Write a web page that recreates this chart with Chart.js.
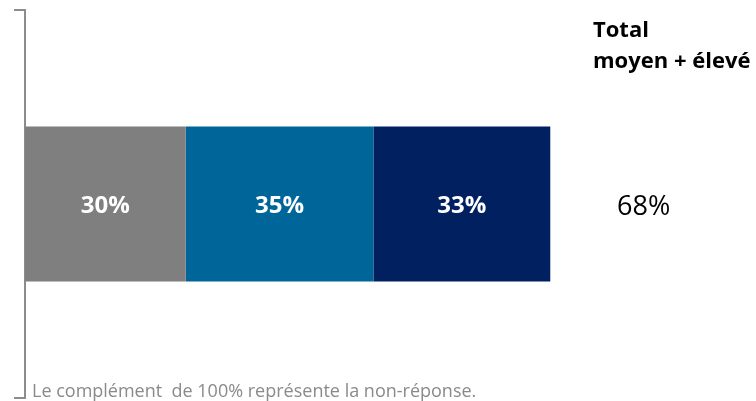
<!DOCTYPE html>
<html>
<head>
<meta charset="utf-8">
<script src="https://cdn.jsdelivr.net/npm/chart.js@4.4.0/dist/chart.umd.min.js"></script>
<style>
  html, body { margin: 0; padding: 0; background: #fff; }
  #wrap { width: 756px; height: 401px; position: relative; }
</style>
</head>
<body>
<div id="wrap"><canvas id="chart" width="756" height="401"></canvas></div>
<script>
// one bar, three segments
const categories = [''];
const seriesNames = ['Faible', 'Moyen', 'Élevé'];
const seriesValues = [30, 35, 33];
const seriesColors = ['#7f7f7f', '#006699', '#002060'];
const totalTitle = ['Total', 'moyen + élevé'];
const footnote = 'Le complément  de 100% représente la non-réponse.';

const FONT = '"Open Sans", "Liberation Sans", sans-serif';

// total = moyen + élevé
const totalValue = seriesValues[1] + seriesValues[2];

const labelPlugin = {
  id: 'labels',
  afterDatasetsDraw(chart) {
    const ctx = chart.ctx;
    ctx.save();
    ctx.fillStyle = '#ffffff';
    ctx.font = 'bold 24px ' + FONT;
    ctx.textAlign = 'center';
    ctx.textBaseline = 'middle';
    chart.data.datasets.forEach((ds, i) => {
      const bar = chart.getDatasetMeta(i).data[0];
      const cx = (bar.x + bar.base) / 2;
      ctx.fillText(ds.data[0] + '%', cx, bar.y + 2);
    });

    // side annotation
    const area = chart.chartArea;
    const bar0 = chart.getDatasetMeta(0).data[0];
    ctx.fillStyle = '#000000';
    ctx.textAlign = 'left';
    ctx.textBaseline = 'alphabetic';
    ctx.font = 'bold 22px ' + FONT;
    ctx.fillText(totalTitle[0], 593, 37);
    ctx.fillText(totalTitle[1], 593, 68);
    ctx.font = '27px ' + FONT;
    ctx.textBaseline = 'middle';
    ctx.fillText(totalValue + '%', 617, bar0.y + 3);

    // footnote
    ctx.fillStyle = '#8a8a8a';
    ctx.font = '18px ' + FONT;
    ctx.textBaseline = 'alphabetic';
    ctx.fillText(footnote, area.left + 7, 397);
    ctx.restore();
  }
};

new Chart(document.getElementById('chart'), {
  type: 'bar',
  data: {
    labels: categories,
    datasets: seriesNames.map((name, i) => ({
      label: name,
      data: [seriesValues[i]],
      backgroundColor: seriesColors[i],
      borderWidth: 0,
      barPercentage: 1,
      categoryPercentage: 0.4
    }))
  },
  options: {
    indexAxis: 'y',
    responsive: false,
    animation: false,
    layout: { padding: { top: 10, bottom: 3, left: 0, right: 195 } },
    plugins: {
      legend: { display: false },
      tooltip: { enabled: false }
    },
    scales: {
      x: {
        stacked: true,
        min: 0,
        max: 100,
        display: false
      },
      y: {
        stacked: true,
        afterFit(scale) { scale.width = 25; },
        ticks: { display: false },
        grid: {
          drawOnChartArea: false,
          drawTicks: true,
          tickLength: 11,
          color: '#8c8c8c',
          lineWidth: 2
        },
        border: { display: true, color: '#8c8c8c', width: 2 }
      }
    }
  },
  plugins: [labelPlugin]
});
</script>
</body>
</html>
